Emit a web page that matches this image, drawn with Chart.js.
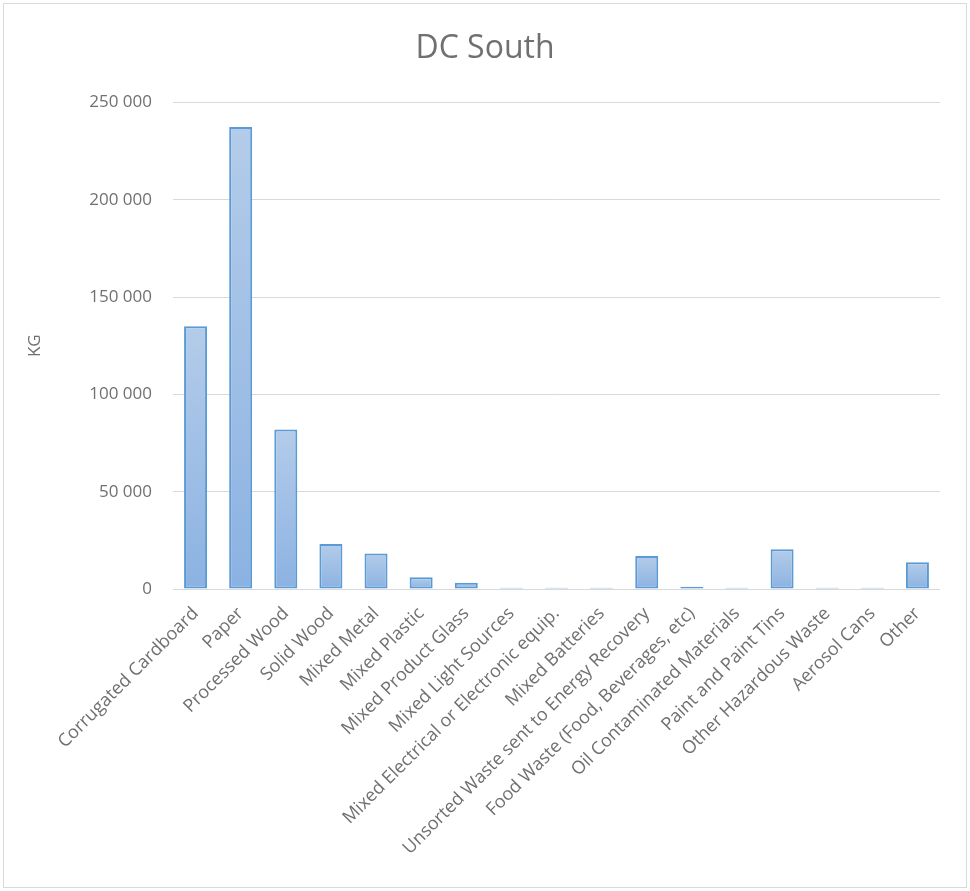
<!DOCTYPE html>
<html>
<head>
<meta charset="utf-8">
<title>DC South</title>
<script src="https://cdn.jsdelivr.net/npm/chart.js@4/dist/chart.umd.min.js"></script>
<style>
  html, body { margin: 0; padding: 0; background: #ffffff; }
  #frame {
    position: absolute; left: 3px; top: 3px;
    width: 964px; height: 885px;
    box-sizing: border-box; border: 1px solid #d9d9d9; background: #ffffff;
  }
  #chart { display: block; }
</style>
</head>
<body>
<div id="frame"><canvas id="chart" width="962" height="883"></canvas></div>
<script>
// Waste streams collected at DC South (kg)
const categories = [
  "Corrugated Cardboard",
  "Paper",
  "Processed Wood",
  "Solid Wood",
  "Mixed Metal",
  "Mixed Plastic",
  "Mixed Product Glass",
  "Mixed Light Sources",
  "Mixed Electrical or Electronic equip.",
  "Mixed Batteries",
  "Unsorted Waste sent to Energy Recovery",
  "Food Waste (Food, Beverages, etc)",
  "Oil Contaminated Materials",
  "Paint and Paint Tins",
  "Other Hazardous Waste",
  "Aerosol Cans",
  "Other"
];
const weightKg = [
  135000, 237300, 82000, 23100, 18300, 6000, 3250,
  600, 600, 600, 17000, 1100, 600, 20400, 600, 600, 13700
];
const yTicks = [0, 50000, 100000, 150000, 200000, 250000];

const textColor = "#707070";
const fontFamily = "'Open Sans', 'DejaVu Sans', sans-serif";

function spaced(v) {
  return String(v).replace(/\B(?=(\d{3})+(?!\d))/g, " ");
}

// Each bar gets its own light-to-darker vertical gradient
function barFill(ctx) {
  const chart = ctx.chart;
  const y = chart.scales && chart.scales.y;
  if (!y || ctx.raw === undefined) return "#a3c2e7";
  const top = y.getPixelForValue(ctx.raw);
  const bottom = y.getPixelForValue(0);
  if (!isFinite(top) || !isFinite(bottom) || bottom - top < 2) return "#9dbfe6";
  const g = chart.ctx.createLinearGradient(0, top, 0, bottom);
  g.addColorStop(0, "#b3cce9");
  g.addColorStop(1, "#8cb2e2");
  return g;
}

new Chart(document.getElementById("chart"), {
  type: "bar",
  data: {
    labels: categories,
    datasets: [{
      label: "KG",
      data: weightKg,
      backgroundColor: barFill,
      borderColor: "#5b9bd5",
      borderWidth: 2,
      borderSkipped: false,
      barPercentage: 0.51,
      categoryPercentage: 1.0
    }]
  },
  options: {
    responsive: false,
    animation: false,
    events: [],
    layout: { padding: 0 },
    plugins: {
      legend: { display: false },
      tooltip: { enabled: false },
      title: {
        display: true,
        text: "DC South",
        color: textColor,
        font: { family: fontFamily, size: 32, weight: "normal", lineHeight: 1.2 },
        padding: { top: 26, bottom: 34 }
      }
    },
    scales: {
      x: {
        grid: { display: false, drawTicks: false },
        border: { display: false },
        ticks: {
          autoSkip: false,
          minRotation: 45,
          maxRotation: 45,
          padding: 14,
          color: textColor,
          font: { family: fontFamily, size: 18 }
        },
        afterFit(scale) { scale.height = 298; }
      },
      y: {
        min: 0,
        max: 250000,
        afterBuildTicks(scale) { scale.ticks = yTicks.map(v => ({ value: v })); },
        grid: { color: "#d9d9d9", lineWidth: 1, drawTicks: false },
        border: { display: false },
        ticks: {
          padding: 21,
          color: textColor,
          font: { family: fontFamily, size: 17 },
          callback: (v) => spaced(v)
        },
        title: {
          display: true,
          text: "KG",
          color: textColor,
          font: { family: fontFamily, size: 17 },
          padding: { top: 21, bottom: 0 }
        },
        afterFit(scale) { scale.width = 169; }
      },
      // empty right-hand margin so the title stays centred on the whole chart
      rightMargin: {
        type: "linear",
        position: "right",
        display: true,
        grid: { display: false, drawTicks: false },
        border: { display: false },
        ticks: { display: false },
        afterFit(scale) { scale.width = 26; }
      }
    }
  }
});
</script>
</body>
</html>
